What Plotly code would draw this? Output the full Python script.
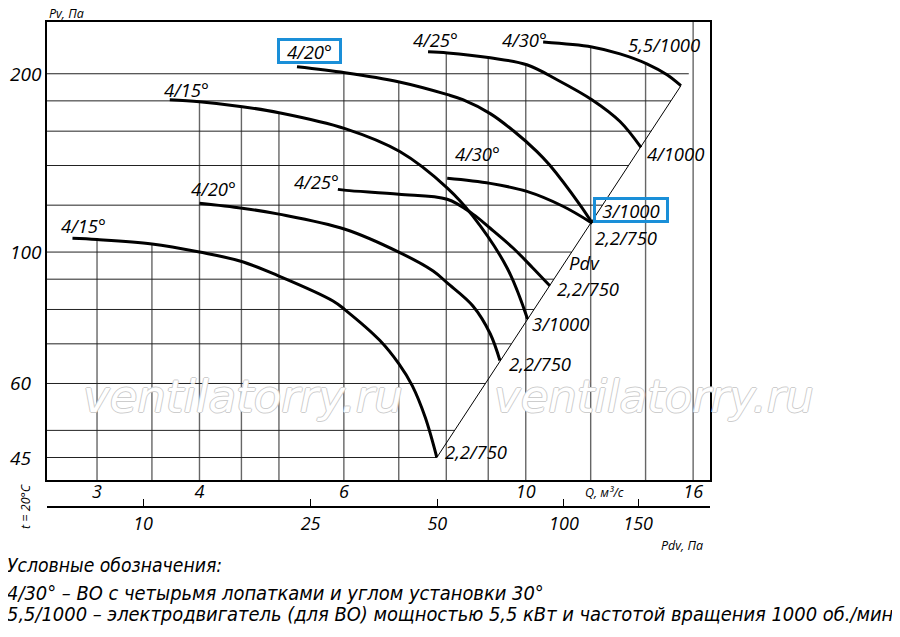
import numpy as np
import plotly.graph_objects as go

# Q, м³/с and Pv, Па, one pair per curve
q_415_low = [2.80, 3.0, 3.5, 4.0, 4.48, 5.0, 5.82, 6.02, 6.64, 7.0, 7.27, 7.54, 7.79]
pv_415_low = [105.5, 105.0, 103.2, 100.0, 96.6, 91.1, 82.7, 79.9, 70.9, 64.8, 59.5, 52.6, 45.0]

q_420_low = [4.0, 4.51, 5.0, 6.02, 7.0, 7.71, 8.02, 8.62, 9.05, 9.30]
pv_420_low = [120.9, 118.6, 115.9, 109.3, 100.0, 92.9, 88.7, 81.1, 72.8, 65.6]

q_425_low = [5.90, 6.04, 7.0, 8.02, 8.62, 9.05, 9.65, 10.20, 10.70]
pv_425_low = [127.6, 127.1, 125.2, 122.8, 115.9, 109.7, 101.6, 94.0, 87.7]

q_430_low = [8.02, 9.05, 10.03, 11.10, 12.05]
pv_430_low = [133.2, 130.6, 126.6, 119.5, 111.9]

q_415_up = [3.68, 4.0, 4.51, 5.0, 6.02, 7.02, 8.03, 8.62, 9.49, 10.05]
pv_415_up = [180.8, 179.4, 176.0, 171.9, 161.6, 147.8, 128.1, 115.0, 94.0, 77.1]

q_420_up = [5.26, 6.02, 6.99, 8.03, 8.38, 9.05, 9.65, 10.32, 10.70, 11.65, 12.05]
pv_420_up = [205.5, 200.8, 193.9, 184.4, 180.8, 171.3, 160.4, 147.8, 140.1, 120.0, 111.9]

q_425_up = [7.60, 8.03, 9.05, 10.03, 10.92, 12.04, 13.03, 13.82]
pv_425_up = [217.8, 216.9, 212.8, 207.1, 195.4, 180.8, 166.1, 150.2]

q_430_up = [10.50, 12.04, 13.03, 14.05, 14.87, 15.46]
pv_430_up = [226.3, 222.0, 216.1, 207.9, 199.2, 190.9]

blade_labels = ["4/15°", "4/20°", "4/25°", "4/30°", "4/15°", "4/20°", "4/25°", "4/30°"]
motor_labels = ["2,2/750", "2,2/750", "2,2/750", "2,2/750", "3/1000", "3/1000", "4/1000", "5,5/1000"]

q_grid = [3, 3.5, 4, 4.5, 5, 6, 7, 8, 9, 10, 12, 14, 16]
pv_grid = [45, 50, 60, 70, 80, 90, 100, 120, 140, 160, 180, 200]
q_ticks = [3, 4, 6, 10, 16]
pv_ticks = [45, 60, 100, 200]
pdv_ticks = [10, 25, 50, 100, 150]

curves_q = [q_415_low, q_420_low, q_425_low, q_430_low, q_415_up, q_420_up, q_425_up, q_430_up]
curves_pv = [pv_415_low, pv_420_low, pv_425_low, pv_430_low, pv_415_up, pv_420_up, pv_425_up, pv_430_up]

# label offsets in px (dx, dy down) from curve start / end, and highlight box widths
start_off = [(11, -13), (14, -15), (-21, -8), (30, -25), (17, -10), (13, -16), (7, -12), (-19, -2)]
end_off = [(6, -6), (7, 3), (5, 3), (1, 14), (2, 5), (4, -13), (4, 6), (-55, -41)]
start_box = [0, 0, 0, 0, 0, 59, 0, 0]
end_box = [0, 0, 0, 0, 0, 70, 0, 0]

X_RANGE = [0.4161, 1.2247]
Y_RANGE = [1.615, 2.3884]
BLUE = "#1a8fd8"
LBL = dict(family="Open Sans, Liberation Sans, sans-serif", size=18.5, color="black", style="italic")
TXT = dict(family="Liberation Sans Narrow, DejaVu Sans Condensed, sans-serif", size=19.9,
           color="black", style="italic")


def pv_on(q, qs, pvs):
    return 10 ** np.interp(np.log10(q), np.log10(qs), np.log10(pvs))


# Pdv diagonal: through the end of the lowest and highest curve
d0 = (np.log10(q_415_low[-1]), np.log10(pv_415_low[-1]))
d1 = (np.log10(q_430_up[-1]), np.log10(pv_430_up[-1]))
slope = (d1[1] - d0[1]) / (d1[0] - d0[0])


def q_on_diag(pv):
    return 10 ** (d0[0] + (np.log10(pv) - d0[1]) / slope)


fig = go.Figure()

# vertical grid: from bottom up to the highest curve above it
gx, gy = [], []
for q in q_grid:
    tops = [pv_on(q, qs, pvs) for qs, pvs in zip(curves_q, curves_pv) if qs[0] <= q <= qs[-1]]
    top = max(tops) if tops else 10 ** Y_RANGE[1]
    gx += [q, q, None]
    gy += [10 ** Y_RANGE[0], top, None]
fig.add_trace(go.Scatter(x=gx, y=gy, mode="lines", line=dict(color="#666", width=1.4),
                         hoverinfo="skip", showlegend=False))

# horizontal grid: from left border to the diagonal
hx, hy = [], []
for pv in pv_grid:
    hx += [10 ** X_RANGE[0], q_on_diag(pv), None]
    hy += [pv, pv, None]
fig.add_trace(go.Scatter(x=hx, y=hy, mode="lines", line=dict(color="#222", width=1),
                         hoverinfo="skip", showlegend=False))

fig.add_trace(go.Scatter(x=[q_415_low[-1], q_430_up[-1]], y=[pv_415_low[-1], pv_430_up[-1]],
                         mode="lines", line=dict(color="black", width=1),
                         hoverinfo="skip", showlegend=False))

for qs, pvs in zip(curves_q, curves_pv):
    fig.add_trace(go.Scatter(x=qs, y=pvs, mode="lines", line=dict(color="black", width=3, shape="spline"),
                             showlegend=False))

# helper trace so the Pdv axis is drawn
fig.add_trace(go.Scatter(x=pdv_ticks, y=[pv_ticks[0]] * len(pdv_ticks), xaxis="x2", mode="markers",
                         marker=dict(opacity=0), hoverinfo="skip", showlegend=False))

ann = []
for i in range(len(curves_q)):
    qs, pvs = curves_q[i], curves_pv[i]
    items = [(blade_labels[i], qs[0], pvs[0], start_off[i], start_box[i], "center"),
             (motor_labels[i], qs[-1], pvs[-1], end_off[i], end_box[i], "left")]
    for txt, q, pv, off, box, xa in items:
        a = dict(x=np.log10(q), y=np.log10(pv), xref="x", yref="y", text=txt, showarrow=False,
                 font=LBL, xshift=off[0], yshift=-off[1], xanchor=xa, yanchor="middle")
        if box:
            a.update(bordercolor=BLUE, borderwidth=3, borderpad=0, width=box, height=20,
                     xanchor="center")
            if xa == "left":
                a["xshift"] = off[0] + box / 2
        ann.append(a)

# Pdv label next to the diagonal
ann.append(dict(x=np.log10(q_on_diag(96)), y=np.log10(96), xref="x", yref="y", text="Pdv",
                showarrow=False, font=LBL, xshift=20, xanchor="center", yanchor="middle"))

for v in pv_ticks:
    ann.append(dict(x=-0.0588, y=np.log10(v), xref="paper", yref="y", text=str(v), showarrow=False,
                    xanchor="left", yanchor="middle", font=dict(LBL, size=19)))

small = dict(LBL, size=12.5)
axis_notes = [
    ("Pv, Па", 0.0287, 1.017, 0),
    ("Q, м³/с", 0.8416, 0.0308, 0),
    ("Pdv, Па", 0.9578, -0.0801, 0),
    ("t = 20°C", -0.0332, 0.002, -90),
]
for txt, x, y, ang in axis_notes:
    ann.append(dict(x=x, y=y, xref="paper", yref="paper", text=txt, showarrow=False,
                    xanchor="center", yanchor="middle", font=small, textangle=ang))

wm = dict(family="DejaVu Sans, Liberation Sans, sans-serif", size=45, color="white", style="italic",
          shadow="1px 0 0 #cdcdcd, -1px 0 0 #cdcdcd, 0 1px 0 #cdcdcd, 0 -1px 0 #cdcdcd")
for x in (0.2956, 0.9155):
    ann.append(dict(x=x, y=0.2279, xref="paper", yref="paper", text="ventilatorry.ru",
                    showarrow=False, font=wm, xanchor="center", yanchor="middle"))

legend_lines = [
    "Условные обозначения:",
    "4/30° – ВО с четырьмя лопатками и углом установки 30°",
    "5,5/1000 – электродвигатель (для ВО) мощностью 5,5 кВт и частотой вращения 1000 об./мин",
]
legend_sizes = [19.2, 19.9, 19.9]
for txt, y, fs in zip(legend_lines, [-0.1211, -0.1786, -0.2218], legend_sizes):
    ann.append(dict(x=-0.0633, y=y, xref="paper", yref="paper", text=txt, showarrow=False,
                    xanchor="left", yanchor="middle", font=dict(TXT, size=fs)))

# the page body adds 8 px on the left and top, so margins are 8 px smaller
fig.update_layout(
    width=900, height=637,
    margin=dict(l=39, r=198, t=12, b=138),
    plot_bgcolor="white", paper_bgcolor="white",
    annotations=ann,
    xaxis=dict(type="log", range=X_RANGE, anchor="y", showgrid=False, zeroline=False,
               showline=True, mirror=True, linecolor="black", linewidth=2,
               tickvals=q_ticks, ticktext=[str(v) for v in q_ticks], ticks="",
               ticklabelstandoff=-6, tickfont=dict(LBL, size=18)),
    xaxis2=dict(type="log", range=[0.7717, 2.3469], overlaying="x", anchor="free", position=0,
                showgrid=False, zeroline=False, showline=True, linecolor="black", linewidth=2,
                tickvals=pdv_ticks, ticktext=[str(v) for v in pdv_ticks], ticks="inside",
                ticklen=7, tickcolor="black", tickwidth=1, tickfont=dict(LBL, size=18)),
    yaxis=dict(type="log", range=Y_RANGE, domain=[0.0554, 1], showgrid=False, zeroline=False,
               showline=True, mirror=True, linecolor="black", linewidth=2, showticklabels=False,
               ticks=""),
)

fig.write_html("out.html")
